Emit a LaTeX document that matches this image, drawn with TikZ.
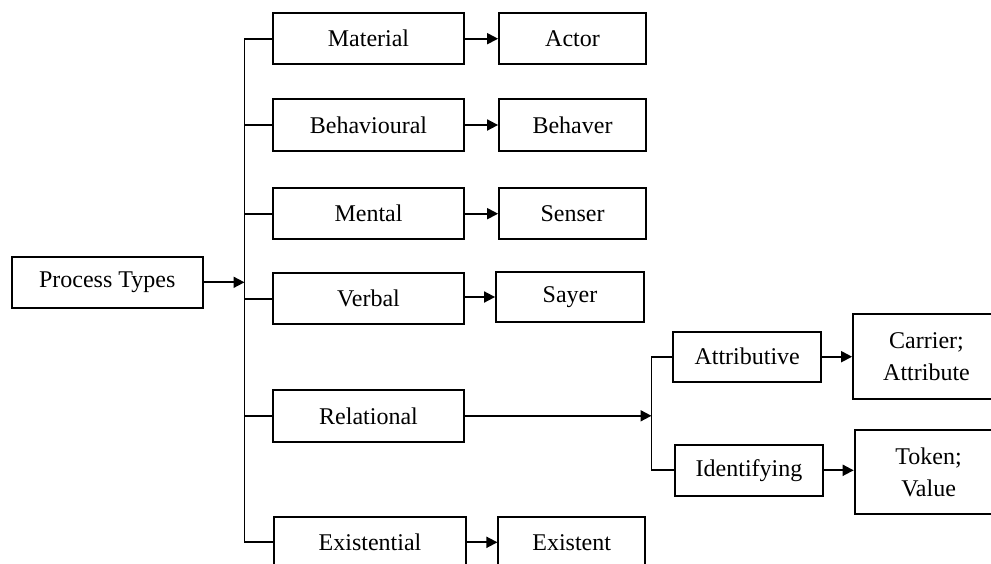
\documentclass[tikz,border=0pt]{standalone}
\usepackage{fontspec}
\setmainfont{Liberation Serif}
\usetikzlibrary{arrows.meta}
\begin{document}
\begin{tikzpicture}[x=1pt,y=-1pt,
  box/.style={draw, line width=1.8pt, inner sep=0pt, align=center,
    font=\fontsize{24}{31.5}\selectfont},
  link/.style={line width=1.8pt},
  arr/.style={line width=1.8pt, -{Triangle[length=11pt,width=11pt]}}]
\useasboundingbox (0,0) rectangle (991,563);
\clip (0,0) rectangle (991,563);
% first column
\node[box, minimum width=191pt, minimum height=51pt] (pt) at (107.2,282.3) {Process Types};
% process types
\node[box, minimum width=191.5pt, minimum height=50.7pt] (mat) at (368.5,38.7) {Material};
\node[box, minimum width=191.5pt, minimum height=51.3pt] (beh) at (368.5,125) {Behavioural};
\node[box, minimum width=191.5pt, minimum height=50.7pt] (men) at (368.5,213.7) {Mental};
\node[box, minimum width=191.5pt, minimum height=50.7pt] (ver) at (368.5,298.7) {Verbal};
\node[box, minimum width=191.5pt, minimum height=51.7pt] (rel) at (368.5,415.8) {Relational};
\node[box, minimum width=192pt, minimum height=51.3pt] (exi) at (370,542.3) {Existential};
% participants
\node[box, minimum width=147pt, minimum height=50.7pt] (actor) at (572.5,38.7) {Actor};
\node[box, minimum width=147pt, minimum height=51.3pt] (behaver) at (572.5,125) {Behaver};
\node[box, minimum width=147pt, minimum height=50.7pt] (senser) at (572.5,213.7) {Senser};
\node[box, minimum width=148pt, minimum height=50.7pt] (sayer) at (570,297) {Sayer};
\node[box, minimum width=146.7pt, minimum height=51.3pt] (existent) at (571.7,542.3) {Existent};
% relational subtypes
\node[box, minimum width=148pt, minimum height=50pt] (attr) at (747.2,356.7) {Attributive};
\node[box, minimum width=148pt, minimum height=50.7pt] (ident) at (749,470.3) {Identifying};
\node[box, minimum width=147pt, minimum height=84.7pt] (carrier) at (926.5,356.7) {Carrier;\\Attribute};
\node[box, minimum width=148pt, minimum height=84.3pt] (token) at (928.6,472.2) {Token;\\Value};
% trunk coordinates
\coordinate (trunk) at (244.5,0);
\coordinate (fork) at (651.5,0);
% main tree
\draw[arr] (pt.east) -- (pt.east -| trunk);
\draw[link] (mat.west) -- (mat.west -| trunk) -- (exi.west -| trunk) -- (exi.west);
\draw[link] (beh.west) -- (beh.west -| trunk);
\draw[link] (men.west) -- (men.west -| trunk);
\draw[link] (ver.west) -- (ver.west -| trunk);
\draw[link] (rel.west) -- (rel.west -| trunk);
% process -> participant
\draw[arr] (mat.east) -- (mat.east -| actor.west);
\draw[arr] (beh.east) -- (beh.east -| behaver.west);
\draw[arr] (men.east) -- (men.east -| senser.west);
\draw[arr] (sayer.west -| ver.east) -- (sayer.west);
\draw[arr] (exi.east) -- (exi.east -| existent.west);
% relational fork
\draw[arr] (rel.east) -- (rel.east -| fork);
\draw[link] (attr.west) -- (attr.west -| fork) -- (ident.west -| fork) -- (ident.west);
\draw[arr] (attr.east) -- (attr.east -| carrier.west);
\draw[arr] (ident.east) -- (ident.east -| token.west);
\end{tikzpicture}
\end{document}
